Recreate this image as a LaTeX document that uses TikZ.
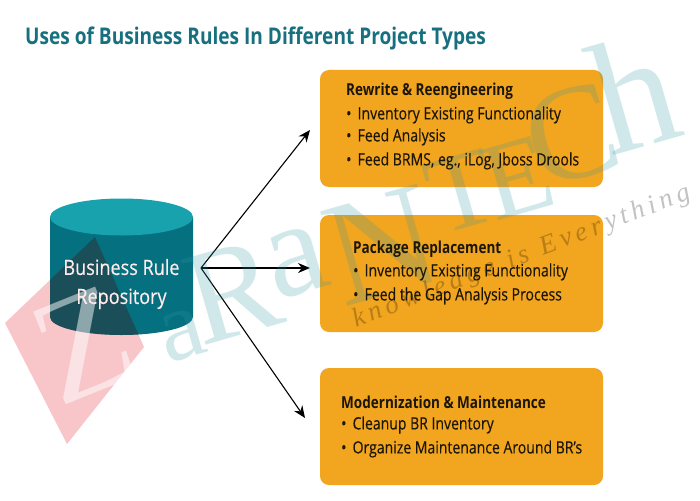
\documentclass[tikz,border=0pt]{standalone}
\usepackage{fontspec}
\setmainfont{Open Sans}
\newfontfamily\wmfont{Liberation Serif}
\newfontfamily\semifont[FakeBold=0.35]{Open Sans}
\usetikzlibrary{arrows.meta}
\definecolor{titleteal}{HTML}{17707F}
\definecolor{cylbody}{HTML}{05707F}
\definecolor{cyltop}{HTML}{18A2AD}
\definecolor{boxorange}{HTML}{F2A51E}
\definecolor{inkdark}{HTML}{1C1608}
\definecolor{wmteal}{HTML}{2F9AA8}
\definecolor{wmred}{HTML}{E8404F}
\tikzset{
  x=1pt,y=-1pt,
  titletext/.style={font=\bfseries\fontsize{23}{26}\selectfont,text=titleteal,anchor=west,inner sep=0,xscale=.83,transform shape},
  rulebox/.style={fill=boxorange,rounded corners=9pt,minimum width=283pt,minimum height=117pt,inner sep=0,draw=none},
  boxhead/.style={font=\bfseries\fontsize{16.5}{19}\selectfont,text=inkdark,anchor=west,inner sep=0,xscale=.82,transform shape},
  boxitem/.style={font=\semifont\fontsize{17}{20}\selectfont,text=inkdark,anchor=west,inner sep=0,xscale=.825,transform shape},
  dbtext/.style={font=\semifont\fontsize{21}{26}\selectfont,text=white!92!red,align=center,inner sep=0,xscale=.86,transform shape},
  flow/.style={draw=black,line width=1.1pt,-{Stealth[length=12pt,width=10pt]}},
  wmletter/.style={text=wmteal,opacity=.22,inner sep=0},
  wmtag/.style={font=\wmfont\itshape\fontsize{27}{30}\selectfont,text=black,opacity=.24,inner sep=0,rotate=21},
}
\def\cylshape{(50,217) -- (50,317) arc[start angle=180,end angle=0,x radius=71.5,y radius=18] -- (193,217) -- cycle}
\begin{document}
\begin{tikzpicture}
\useasboundingbox (0,0) rectangle (700,500);
\fill[white] (0,0) rectangle (700,500);

\node[titletext] (title) at (25,38) {Uses of Business Rules In Different Project Types};

% watermark beneath the cylinder
\fill[wmred,opacity=.3] (5,323) -- (95,237) -- (144,347) -- (67,444) -- cycle;

% boxes
\node[rulebox] (b1) at (461.5,128.5) {};
\node[rulebox] (b2) at (461.5,273.5) {};
\node[rulebox] (b3) at (461.5,426.5) {};

% cylinder
\fill[cylbody] \cylshape;
\fill[cyltop] (121.5,217) ellipse[x radius=71.5,y radius=18.5];
\begin{scope}
  \clip \cylshape;
  \fill[black!70!red,opacity=.3] (5,323) -- (95,237) -- (144,347) -- (67,444) -- cycle;
\end{scope}
\node[font=\wmfont\fontsize{150}{150}\selectfont,text=white,opacity=.5,rotate=22,inner sep=0] (wz) at (84,345) {Z};

% connectors
\coordinate (hub) at (201,268);
\coordinate (t1) at (310,130);
\coordinate (t2) at (310,268);
\coordinate (t3) at (305,418);
\draw[flow] (hub) -- (t1);
\draw[flow] (hub) -- (t2);
\draw[flow] (hub) -- (t3);

% watermark letters
\node[wmletter,font=\wmfont\fontsize{100}{100}\selectfont,rotate=16] (wa) at (182,335) {a};
\node[wmletter,font=\wmfont\fontsize{135}{135}\selectfont,rotate=16] (wr) at (233,292) {R};
\node[wmletter,font=\wmfont\fontsize{135}{135}\selectfont,rotate=16] (wb) at (297,262) {a};
\node[wmletter,font=\wmfont\fontsize{150}{150}\selectfont,rotate=16] (wn) at (382,245) {N};
\node[wmletter,font=\wmfont\fontsize{110}{110}\selectfont,rotate=16] (wt) at (462,192) {T};
\node[wmletter,font=\wmfont\fontsize{110}{110}\selectfont,rotate=16] (we) at (518,178) {E};
\node[wmletter,font=\wmfont\fontsize{135}{135}\selectfont,rotate=16] (wc) at (572,135) {C};
\node[wmletter,font=\wmfont\fontsize{160}{160}\selectfont,rotate=16] (wh) at (634,92) {h};
\node[wmtag] (tag) at (522,257) {k\,n\,o\,w\,l\,e\,d\,g\,e\ \ i\,s\ \ E\,v\,e\,r\,y\,t\,h\,i\,n\,g};

% texts over the watermark
\node[dbtext] (db) at (121.5,284) {Business Rule\\[3pt]Repository};

\node[boxhead] (h1) at (346,91) {Rewrite \& Reengineering};
\node[boxitem] (i11) at (346,115) {•\hspace{7.5pt}Inventory Existing Functionality};
\node[boxitem] (i12) at (346,137) {•\hspace{7.5pt}Feed Analysis};
\node[boxitem] (i13) at (346,161) {•\hspace{7.5pt}Feed BRMS, eg., iLog, Jboss Drools};
\node[boxhead] (h2) at (353,249) {Package Replacement};
\node[boxitem] (i21) at (353,272) {•\hspace{7.5pt}Inventory Existing Functionality};
\node[boxitem] (i22) at (353,296) {•\hspace{7.5pt}Feed the Gap Analysis Process};
\node[boxhead] (h3) at (341,402) {Modernization \& Maintenance};
\node[boxitem] (i31) at (341,425) {•\hspace{7.5pt}Cleanup BR Inventory};
\node[boxitem] (i32) at (341,449) {•\hspace{7.5pt}Organize Maintenance Around BR’s};
\end{tikzpicture}
\end{document}
